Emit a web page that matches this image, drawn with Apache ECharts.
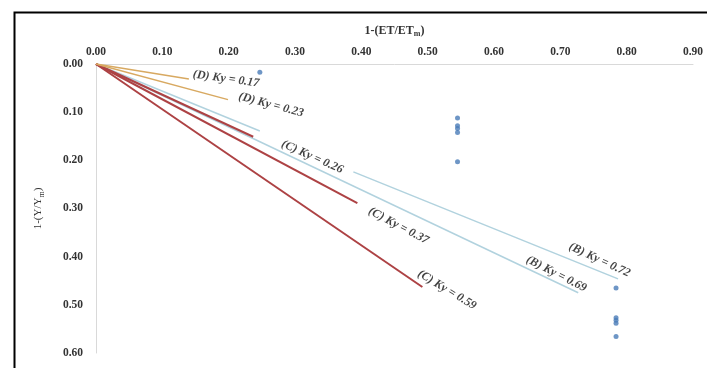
<!DOCTYPE html>
<html>
<head>
<meta charset="utf-8">
<script src="https://cdn.jsdelivr.net/npm/echarts@6/dist/echarts.min.js"></script>
<style>
html,body{margin:0;padding:0;background:#fff;}
#c{width:707px;height:368px;}
</style>
</head>
<body>
<div id="c"></div>
<script>
// ---- data ----
const xTickMin = 0, xTickMax = 0.9, xTickStep = 0.1;
const yTickMin = 0, yTickMax = 0.6, yTickStep = 0.1;

const lineD017 = [[0, 0], [0.140, 0.031]];
const lineD023 = [[0, 0], [0.199, 0.074]];
const lineC026 = [[0, 0], [0.237, 0.151]];
const lineC037 = [[0, 0], [0.394, 0.289]];
const lineC059 = [[0, 0], [0.492, 0.463]];
const lineB072a = [[0, 0], [0.247, 0.139]];
const lineB072b = [[0.388, 0.224], [0.787, 0.446]];
const lineB069 = [[0, 0], [0.727, 0.475]];

const observedPoints = [
  [0.247, 0.017],
  [0.545, 0.112], [0.545, 0.128], [0.545, 0.134], [0.545, 0.142], [0.545, 0.203],
  [0.784, 0.465], [0.784, 0.527], [0.784, 0.532], [0.784, 0.538], [0.784, 0.566]
];

const labelTexts = ['(D) Ky = 0.17', '(D) Ky = 0.23', '(C) Ky = 0.26', '(C) Ky = 0.37', '(C) Ky = 0.59', '(B) Ky = 0.72', '(B) Ky = 0.69'];
const labelX = [0.196, 0.264, 0.326, 0.456, 0.529, 0.759, 0.694];
const labelY = [0.031, 0.085, 0.193, 0.336, 0.469, 0.407, 0.436];
const labelAngle = [-8, -15, -24, -28, -31, -25, -27];

// ---- styles ----
const orange = '#d8a961';
const red = '#ad4244';
const blue = '#b1d2de';
const dot = '#4a7cb8';

function lineSeries(name, data, color, width) {
  return {
    name: name, type: 'line', data: data, showSymbol: false, symbol: 'none',
    lineStyle: { color: color, width: width }, silent: true, animation: false, z: 2
  };
}

const chart = echarts.init(document.getElementById('c'), null, { renderer: 'canvas' });

const labelData = labelTexts.map((t, i) => ({
  value: [labelX[i], labelY[i]],
  name: t,
  label: { rotate: labelAngle[i] }
}));

chart.setOption({
  backgroundColor: '#fff',
  animation: false,
  grid: { left: 96, right: 14, top: 64, bottom: 15, containLabel: false },
  xAxis: {
    type: 'value', position: 'top', min: xTickMin, max: xTickMax, interval: xTickStep,
    name: '1-(ET/ET{s|m})',
    nameLocation: 'middle', nameGap: 26,
    nameTextStyle: {
      fontFamily: 'Liberation Serif', fontWeight: 'bold', fontSize: 12, color: '#333',
      rich: { s: { fontFamily: 'Liberation Serif', fontWeight: 'bold', fontSize: 8, color: '#333', padding: [7, 0, 0, 0] } }
    },
    axisLine: { show: true, lineStyle: { color: '#d9d9d9', width: 1 } },
    axisTick: { show: false },
    splitLine: { show: false },
    axisLabel: {
      margin: 6, fontFamily: 'Liberation Serif', fontWeight: 'bold', fontSize: 11.5, color: '#333',
      formatter: v => v.toFixed(2)
    }
  },
  yAxis: {
    type: 'value', inverse: true, min: yTickMin, max: yTickMax, interval: yTickStep,
    name: '1-(Y/Y{s|m})',
    nameLocation: 'middle', nameGap: 50, nameRotate: 90,
    nameTextStyle: {
      fontFamily: 'Liberation Serif', fontSize: 11, color: '#333',
      rich: { s: { fontFamily: 'Liberation Serif', fontSize: 8, color: '#333', padding: [7, 0, 0, 0] } }
    },
    axisLine: { show: true, lineStyle: { color: '#d9d9d9', width: 1 } },
    axisTick: { show: false },
    splitLine: { show: false },
    axisLabel: {
      margin: 13, fontFamily: 'Liberation Serif', fontWeight: 'bold', fontSize: 11.5, color: '#333',
      formatter: v => v.toFixed(2)
    }
  },
  graphic: [{
    type: 'rect', left: 12, top: 10, silent: true, z: 100,
    shape: { width: 730, height: 400 },
    style: { fill: 'none', stroke: '#000', lineWidth: 2 }
  }],
  series: [
    lineSeries('(B) Ky = 0.69', lineB069, blue, 1.5),
    lineSeries('(B) Ky = 0.72 a', lineB072a, blue, 1.5),
    lineSeries('(B) Ky = 0.72 b', lineB072b, blue, 1.5),
    lineSeries('(C) Ky = 0.59', lineC059, red, 2),
    lineSeries('(C) Ky = 0.37', lineC037, red, 2),
    lineSeries('(C) Ky = 0.26', lineC026, red, 2),
    lineSeries('(D) Ky = 0.23', lineD023, orange, 1.5),
    lineSeries('(D) Ky = 0.17', lineD017, orange, 1.5),
    {
      name: 'observed', type: 'scatter', data: observedPoints, symbol: 'circle', symbolSize: 5,
      itemStyle: { color: dot }, z: 3
    },
    {
      name: 'labels', type: 'scatter', data: labelData, symbol: 'circle', symbolSize: 1,
      itemStyle: { color: 'rgba(0,0,0,0)' }, silent: true, z: 4,
      label: {
        show: true, position: 'inside', formatter: p => p.name,
        fontFamily: 'Liberation Serif', fontWeight: 'bold', fontStyle: 'italic', fontSize: 12, color: '#111'
      }
    }
  ]
});
</script>
</body>
</html>
